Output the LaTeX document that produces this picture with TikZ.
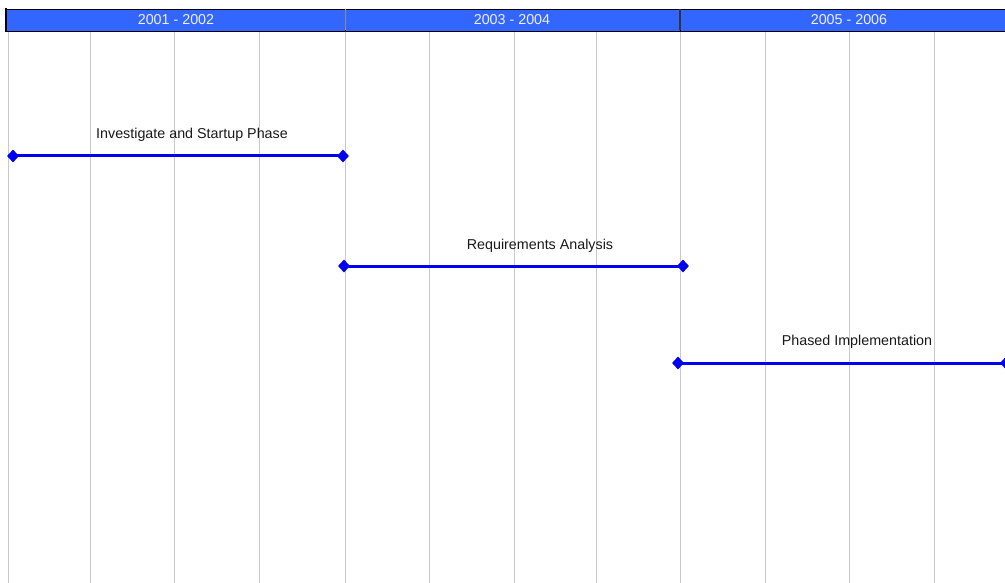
\documentclass[tikz,border=0pt]{standalone}
\usepackage{fontspec}
\setmainfont{Liberation Sans}
\usetikzlibrary{shapes.geometric}
\definecolor{hdr}{HTML}{3366FF}
\definecolor{grid}{HTML}{C8C8C8}
\definecolor{bar}{HTML}{0000F0}
\definecolor{hdrtext}{HTML}{F0F0FF}
\tikzset{
  gridline/.style={draw=grid, line width=0.9pt},
  hdrbox/.style={fill=hdr, draw=black, line width=0.9pt},
  hdrlabel/.style={text=hdrtext, font=\fontsize{14.3}{16}\selectfont, inner sep=0pt, anchor=base},
  milestone/.style={shape=diamond, fill=bar, draw=none, inner sep=0pt, minimum width=12pt, minimum height=13pt},
  taskbar/.style={draw=bar, line width=3pt},
  tasklabel/.style={text=black!90, font=\fontsize{14.3}{16}\selectfont, inner sep=0pt, anchor=base}
}
\begin{document}
\begin{tikzpicture}[x=1pt,y=-1pt]
\useasboundingbox (0,0) rectangle (1005,583);
\clip (0,0) rectangle (1005,583);
% grid lines
\foreach \gx in {8,90,174,259,345,429,514,596,680,765,849,934}
  \draw[gridline] (\gx,31) -- (\gx,583);
% header
\draw[hdrbox] (6,9) rectangle (345,31);
\draw[hdrbox] (345,9) rectangle (680,31);
\draw[hdrbox] (680,9) rectangle (1010,31);
\draw[draw=grid!70!black, line width=0.9pt] (345,9.5) -- (345,30.5);
\draw[draw=black!80, line width=1.3pt] (680,9.5) -- (680,30.5);
\draw[black, line width=2pt] (6,8) -- (6,32);
\node[hdrlabel] (h1) at (176,25) {2001 - 2002};
\node[hdrlabel] (h2) at (512,25) {2003 - 2004};
\node[hdrlabel] (h3) at (849,25) {2005 - 2006};
% task 1
\node[milestone] (a1) at (13,156) {};
\node[milestone] (a2) at (343,156) {};
\draw[taskbar] (a1.center) -- (a2.center);
\node[tasklabel] (t1) at (192,139) {Investigate and Startup Phase};
% task 2
\node[milestone] (b1) at (344,266) {};
\node[milestone] (b2) at (683,266) {};
\draw[taskbar] (b1.center) -- (b2.center);
\node[tasklabel] (t2) at (540,249.5) {Requirements Analysis};
% task 3
\node[milestone] (c1) at (678,363) {};
\node[milestone] (c2) at (1006,363) {};
\draw[taskbar] (c1.center) -- (c2.center);
\node[tasklabel] (t3) at (857,345.5) {Phased Implementation};
\end{tikzpicture}
\end{document}
